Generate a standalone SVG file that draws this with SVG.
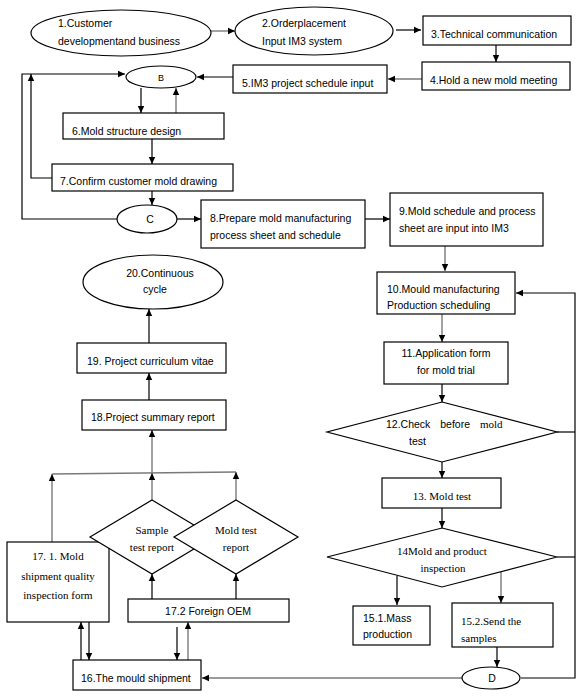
<svg xmlns="http://www.w3.org/2000/svg" width="583" height="699" viewBox="0 0 583 699">
<defs>
<marker id="a" markerWidth="8" markerHeight="8" refX="7" refY="4" orient="auto" markerUnits="userSpaceOnUse"><path d="M0,0.8 L7,4 L0,7.2 Z" fill="#000"/></marker>
<marker id="g" markerWidth="8" markerHeight="8" refX="7" refY="4" orient="auto" markerUnits="userSpaceOnUse"><path d="M0,0.8 L7,4 L0,7.2 Z" fill="#000"/></marker>
<style>
.n{fill:#fff;stroke:#000;stroke-width:1.2}
.t{font-family:"Liberation Sans",Arial,sans-serif;font-size:10.5px;fill:#000}
.s{font-family:"Liberation Serif","Times New Roman",serif;font-size:11px;fill:#000}
.c{text-anchor:middle}
.k{fill:none;stroke:#000;stroke-width:1.2;marker-end:url(#a)}
.gk{fill:none;stroke:#7a7a7a;stroke-width:1.4;marker-end:url(#g)}
.l{fill:none;stroke:#000;stroke-width:1.2}
.gl{fill:none;stroke:#7a7a7a;stroke-width:1.4}
</style>
</defs>
<rect width="583" height="699" fill="#fff"/>

<g id="connectors">
<line class="gk" x1="211" y1="31" x2="235" y2="31"/>
<line class="k" x1="396" y1="30" x2="421" y2="30"/>
<line class="k" x1="496" y1="45" x2="496" y2="62"/>
<line class="gk" x1="422" y1="79" x2="388" y2="79"/>
<line class="k" x1="233" y1="77" x2="197" y2="77"/>
<path class="k" d="M117,219 H22 V74 H125"/>
<path class="k" d="M52,178 H31 V74"/>
<line class="k" x1="141" y1="88" x2="141" y2="113"/>
<line class="gk" x1="176" y1="113" x2="176" y2="88"/>
<line class="k" x1="152" y1="139" x2="152" y2="164"/>
<line class="k" x1="152" y1="191" x2="152" y2="205"/>
<line class="k" x1="177" y1="219" x2="201" y2="219"/>
<line class="k" x1="365" y1="219" x2="390" y2="219"/>
<line class="gk" x1="445" y1="246" x2="445" y2="271"/>
<line class="gk" x1="442" y1="314" x2="442" y2="342"/>
<line class="k" x1="442" y1="384" x2="442" y2="402"/>
<line class="k" x1="442" y1="462" x2="442" y2="478"/>
<line class="k" x1="442" y1="508" x2="442" y2="528"/>
<line class="l" x1="557" y1="432" x2="575" y2="432"/>
<line class="l" x1="557" y1="557" x2="575" y2="557"/>
<path class="k" d="M521,678 H575 V293 H516"/>
<line class="k" x1="397" y1="576" x2="397" y2="605"/>
<line class="gk" x1="501" y1="572" x2="501" y2="603"/>
<line class="k" x1="497" y1="647" x2="497" y2="667"/>
<line class="gk" x1="462" y1="678" x2="202" y2="678"/>
<line class="k" x1="81" y1="660" x2="81" y2="622"/>
<line class="k" x1="89" y1="622" x2="89" y2="660"/>
<line class="k" x1="177" y1="627" x2="177" y2="660"/>
<line class="gk" x1="188" y1="660" x2="188" y2="622"/>
<line class="k" x1="152" y1="599" x2="152" y2="574"/>
<line class="k" x1="236" y1="599" x2="236" y2="574"/>
<line class="gl" x1="52" y1="474" x2="236" y2="472"/>
<line class="gk" x1="52" y1="542" x2="52" y2="474"/>
<line class="gk" x1="152" y1="500" x2="152" y2="473"/>
<line class="gk" x1="236" y1="500" x2="236" y2="472"/>
<line class="gk" x1="152" y1="473" x2="152" y2="430"/>
<line class="k" x1="149" y1="400" x2="149" y2="373"/>
<line class="k" x1="149" y1="343" x2="149" y2="309"/>
</g>

<g id="n1"><ellipse class="n" cx="121" cy="33" rx="90" ry="23"/><text class="t" x="58" y="27">1.Customer</text><text class="t" x="58" y="45">developmentand business</text></g>
<g id="n2"><ellipse class="n" cx="314" cy="31" rx="79" ry="24"/><text class="t" x="262" y="27">2.Orderplacement</text><text class="t" x="262" y="45">Input IM3 system</text></g>
<g id="n3"><rect class="n" x="423" y="16" width="148" height="29"/><text class="t" x="431" y="38">3.Technical communication</text></g>
<g id="n4"><rect class="n" x="422" y="62" width="148" height="28"/><text class="t" x="430" y="84">4.Hold a new mold meeting</text></g>
<g id="n5"><rect class="n" x="233" y="65" width="154" height="28"/><text class="t" x="242" y="87">5.IM3 project schedule input</text></g>
<g id="nB"><ellipse class="n" cx="161" cy="77" rx="35" ry="11"/><text class="t c" x="161" y="81" style="font-size:9px">B</text></g>
<g id="n6"><rect class="n" x="63" y="113" width="161" height="26"/><text class="t" x="72" y="135">6.Mold structure design</text></g>
<g id="n7"><rect class="n" x="52" y="164" width="181" height="27"/><text class="t" x="60" y="185">7.Confirm customer mold drawing</text></g>
<g id="nC"><ellipse class="n" cx="147" cy="219" rx="30" ry="14"/><text class="t c" x="150" y="223">C</text></g>
<g id="n8"><rect class="n" x="201" y="200" width="164" height="48"/><text class="t" x="210" y="222">8.Prepare mold manufacturing</text><text class="t" x="210" y="239">process sheet and schedule</text></g>
<g id="n9"><rect class="n" x="390" y="193" width="153" height="53"/><text class="t" x="399" y="215">9.Mold schedule and process</text><text class="t" x="399" y="232">sheet are input into IM3</text></g>
<g id="n10"><rect class="n" x="377" y="272" width="138" height="42"/><text class="t" x="387" y="293">10.Mould manufacturing</text><text class="t" x="387" y="309">Production scheduling</text></g>
<g id="n11"><rect class="n" x="384" y="342" width="124" height="42"/><text class="t c" x="446" y="357">11.Application form</text><text class="t c" x="446" y="374">for mold trial</text></g>
<g id="n12"><polygon class="n" points="442,402 557,432 442,462 327,432"/><text class="t" x="386" y="428" word-spacing="7">12.Check before <tspan class="s">mold</tspan></text><text class="t" x="409" y="445">test</text></g>
<g id="n13"><rect class="n" x="382" y="478" width="119" height="30"/><text class="s c" x="442" y="500">13. Mold test</text></g>
<g id="n14"><polygon class="n" points="442,528 557,557 442,587 327,557"/><text class="s c" x="442" y="555">14Mold and product</text><text class="s c" x="443" y="572">inspection</text></g>
<g id="n15_1"><rect class="n" x="353" y="606" width="77" height="39"/><text class="t" x="363" y="622">15.1.Mass</text><text class="t" x="363" y="638">production</text></g>
<g id="n15_2"><rect class="n" x="452" y="603" width="101" height="44"/><text class="s" x="461" y="625">15.2.Send the</text><text class="s" x="461" y="642">samples</text></g>
<g id="nD"><ellipse class="n" cx="491" cy="678" rx="29" ry="11"/><text class="t c" x="492" y="682">D</text></g>
<g id="n16"><rect class="n" x="73" y="660" width="128" height="30"/><text class="t" x="81" y="682">16.The mould shipment</text></g>
<g id="n17_1"><rect class="n" x="7" y="542" width="102" height="80"/><text class="s c" x="58" y="560">17. 1. Mold</text><text class="s c" x="58" y="580">shipment quality</text><text class="s c" x="58" y="599">inspection form</text></g>
<g id="n17_2"><rect class="n" x="128" y="599" width="161" height="23"/><text class="t c" x="208" y="615">17.2 Foreign OEM</text></g>
<g id="nSample"><polygon class="n" points="152,500 214,537 152,574 90,537"/><text class="s c" x="152" y="534">Sample</text><text class="s c" x="152" y="551">test report</text></g>
<g id="nMoldTest"><polygon class="n" points="236,500 298,537 236,574 174,537"/><text class="s c" x="236" y="534">Mold test</text><text class="s c" x="236" y="551">report</text></g>
<g id="n18"><rect class="n" x="82" y="400" width="144" height="30"/><text class="t" x="91" y="421">18.Project summary report</text></g>
<g id="n19"><rect class="n" x="77" y="343" width="149" height="30"/><text class="t" x="87" y="365">19. Project curriculum vitae</text></g>
<g id="n20"><ellipse class="n" cx="153" cy="282" rx="70" ry="27"/><text class="t c" x="160" y="277">20.Continuous</text><text class="t c" x="155" y="293">cycle</text></g>
</svg>
